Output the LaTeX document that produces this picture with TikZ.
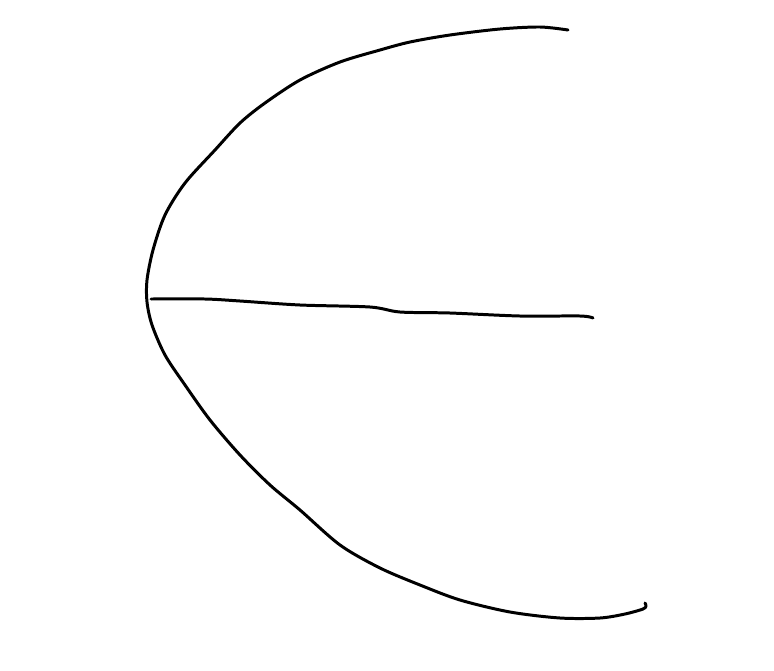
\documentclass[tikz,border=0pt]{standalone}
\usetikzlibrary{positioning}
\tikzset{
  stroke/.style={line width=1.7pt, black, line cap=round, line join=round}
}
\begin{document}
\begin{tikzpicture}[x=0.02cm, y=-0.02cm]
\useasboundingbox (0,0) rectangle (774,670);
% outer bow
\draw[stroke] plot[smooth, tension=0.5] coordinates {
  (568,30) (540,27) (500,29) (450,35) (410,42) (380,50) (340,62)
  (300,80) (265,103) (240,123) (215,150) (185,183) (165,215)
  (153,250) (147,280) (147,302) (152,325) (165,355) (185,385)
  (210,420) (240,455) (270,485) (300,510) (340,545) (380,568)
  (420,585) (460,600) (510,612) (560,618) (600,618) (625,614)
  (643,609) (646,606) (645,603)};
% middle bar
\coordinate (barl) at (151,299);
\coordinate (barr) at (593,318);
\draw[stroke] plot[smooth, tension=0.5] coordinates {
  (barl) (205,299) (240,301) (300,305) (370,307) (400,312)
  (450,313) (520,316) (580,316) (barr)};
\end{tikzpicture}
\end{document}
